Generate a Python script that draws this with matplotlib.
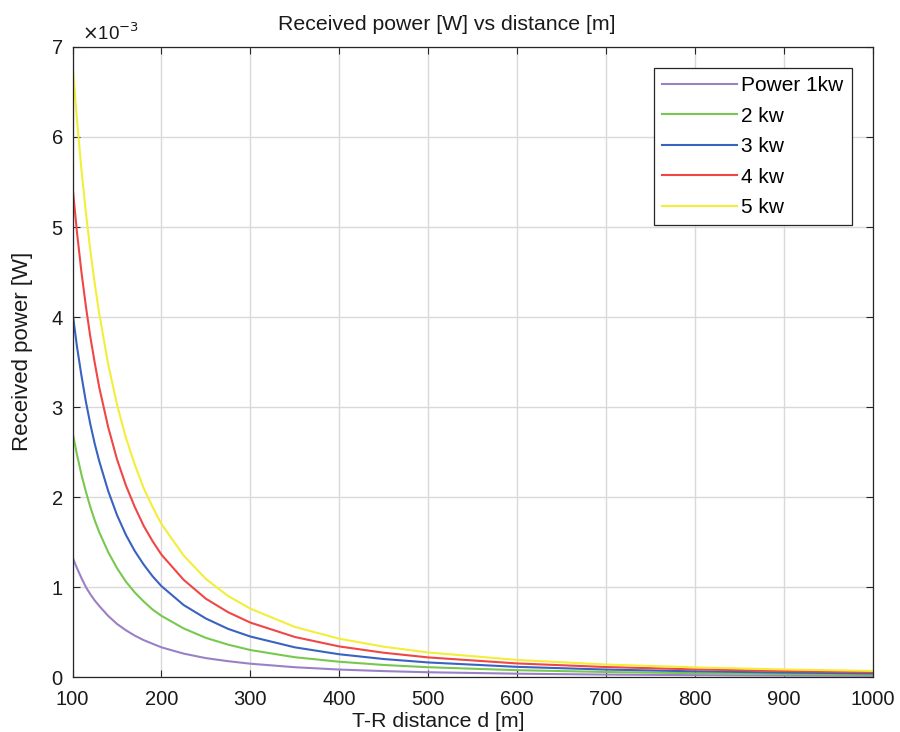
import numpy as np
import matplotlib
matplotlib.use('Agg')
import matplotlib.pyplot as plt

plt.rcParams['font.family'] = ['Liberation Sans', 'DejaVu Sans']

# distances [m] and received power values, in units of 1e-3 W
d = [100, 105, 110, 115, 120, 125, 130, 140, 150, 160, 170, 180, 190, 200,
     225, 250, 275, 300, 350, 400, 450, 500, 600, 700, 800, 900, 1000]
p_1kw = [1.33, 1.21, 1.10, 1.00, 0.92, 0.85, 0.79, 0.68, 0.59, 0.52, 0.46, 0.41, 0.37, 0.33,
         0.26, 0.21, 0.176, 0.148, 0.109, 0.083, 0.066, 0.053, 0.037, 0.027, 0.021, 0.016, 0.013]
p_2kw = [2.72, 2.47, 2.25, 2.06, 1.89, 1.74, 1.61, 1.39, 1.21, 1.06, 0.94, 0.84, 0.75, 0.68,
         0.54, 0.435, 0.36, 0.30, 0.22, 0.17, 0.134, 0.109, 0.076, 0.056, 0.042, 0.034, 0.027]
p_3kw = [4.05, 3.67, 3.35, 3.06, 2.81, 2.59, 2.40, 2.07, 1.80, 1.58, 1.40, 1.25, 1.12, 1.01,
         0.80, 0.65, 0.535, 0.45, 0.33, 0.253, 0.20, 0.162, 0.113, 0.083, 0.063, 0.05, 0.04]
p_4kw = [5.45, 4.94, 4.50, 4.12, 3.78, 3.49, 3.22, 2.78, 2.42, 2.13, 1.89, 1.68, 1.51, 1.36,
         1.08, 0.87, 0.72, 0.605, 0.445, 0.34, 0.27, 0.218, 0.151, 0.111, 0.085, 0.067, 0.054]
p_5kw = [6.82, 6.19, 5.64, 5.16, 4.74, 4.37, 4.04, 3.48, 3.03, 2.66, 2.36, 2.10, 1.89, 1.70,
         1.35, 1.09, 0.90, 0.76, 0.557, 0.426, 0.337, 0.273, 0.19, 0.139, 0.107, 0.084, 0.068]

labels = ['Power 1kw', '2 kw', '3 kw', '4 kw', '5 kw']
colors = ['#9b80c8', '#78c850', '#3a62c0', '#f04646', '#f2ee3a']
series = [p_1kw, p_2kw, p_3kw, p_4kw, p_5kw]

fig = plt.figure(figsize=(9, 7.32), dpi=100)
ax = fig.add_axes([0.0806, 0.0751, 0.8889, 0.8607])

for vals, lab, col in zip(series, labels, colors):
    ax.plot(d, vals, color=col, label=lab, linewidth=1.5)

ax.set_xlim(100, 1000)
ax.set_ylim(0, 7)
ax.set_xticks(np.arange(100, 1001, 100))
ax.set_yticks(np.arange(0, 8, 1))
ax.grid(True, color='#d9d9d9', linewidth=1.0)
ax.set_axisbelow(True)
ax.tick_params(direction='in', top=True, right=True, labelsize=14.5,
               length=5, color='#262626', labelcolor='#1a1a1a')
ax.tick_params(axis='x', pad=9.5)
ax.tick_params(axis='y', pad=7)
for s in ax.spines.values():
    s.set_color('#262626')
    s.set_linewidth(0.9)

ax.set_title('Received power [W] vs distance [m]', fontsize=15.3, color='#1a1a1a',
             pad=12, x=0.4675)
ax.set_xlabel('T-R distance d [m]', fontsize=15.3, color='#1a1a1a')
ax.xaxis.set_label_coords(0.4575, -0.056)
ax.set_ylabel('Received power [W]', fontsize=16, color='#1a1a1a')
ax.yaxis.set_label_coords(-0.049, 0.517)
ax.text(0.012, 1.004, r'$\times$10$^{-3}$', transform=ax.transAxes, fontsize=13.5,
        ha='left', va='bottom', color='#1a1a1a')

leg = ax.legend(loc='upper right', fontsize=15, frameon=True, fancybox=False,
                edgecolor='#262626', framealpha=1, handlelength=3.6,
                labelspacing=0.55, borderaxespad=1.0, handletextpad=0.2,
                borderpad=0.4)
leg.get_frame().set_linewidth(0.9)

fig.savefig('out.png', dpi=100)
